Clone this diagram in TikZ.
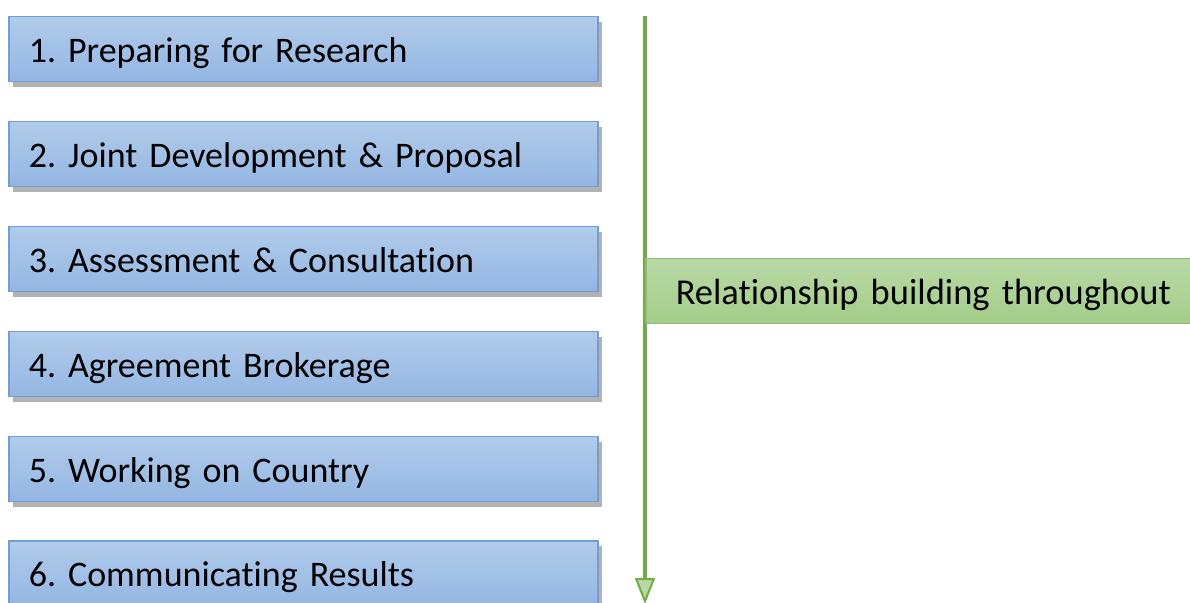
\documentclass[tikz,border=0pt]{standalone}
\usepackage{fontspec}
\setmainfont{Carlito}[Ligatures=NoCommon]
\usetikzlibrary{shapes,positioning,calc}
\usetikzlibrary{arrows.meta,shadows}
\definecolor{fasetop}{HTML}{B1CCEB}
\definecolor{fasebot}{HTML}{93B6E2}
\definecolor{faseline}{HTML}{6F9FD8}
\definecolor{relatop}{HTML}{B8D9A4}
\definecolor{relabot}{HTML}{A3CD88}
\definecolor{relaline}{HTML}{70AD47}
\tikzstyle{fase} = [rectangle, anchor=north west, text width=549pt, align=left,
inner xsep=20pt, inner ysep=0pt, minimum height=65pt, text height=31pt, text depth=4pt,
draw=faseline, line width=1.5pt,
top color=fasetop, bottom color=fasebot, font=\fontsize{36}{40}\selectfont\frenchspacing,
drop shadow={shadow xshift=4pt, shadow yshift=-5pt, opacity=0.3, fill=black}]
\tikzstyle{rela} = [rectangle, anchor=north west, text width=530pt, align=left,
inner xsep=30pt, inner ysep=0pt, minimum height=65pt, text height=30pt, text depth=4pt,
draw=relaline!80, line width=1.5pt,
top color=relatop, bottom color=relabot, font=\fontsize{36.5}{40}\selectfont\frenchspacing]
\tikzstyle{arrow} = [line width=3.5pt, draw=relaline,
-{Triangle[width=20pt,length=26pt,open,fill=relatop,line width=2pt]}]
\begin{document}
\begin{tikzpicture}[x=1pt,y=1pt]
						\clip (0,0) rectangle (1190,602);
						\fill[white] (0,0) rectangle (1190,602);
						\node (f1) at (8,586) [fase] {1. Preparing for Research};
						\node (f2) at (8,481) [fase] {2. Joint Development \& Proposal};
						\node (f3) at (8,376) [fase] {3. Assessment \& Consultation};
						\node (f4) at (8,271) [fase] {4. Agreement Brokerage};
						\node (f5) at (8,166) [fase] {5. Working on Country};
						\node (f6) at (8,62) [fase] {6. Communicating Results};
						\coordinate (inizio) at (645,586);
						\coordinate (fine) at (645,-2);
						\draw[arrow] (inizio) -- (fine);
						\node (rel) at (645,344) [rela] {Relationship building throughout};
					\end{tikzpicture}
\end{document}
